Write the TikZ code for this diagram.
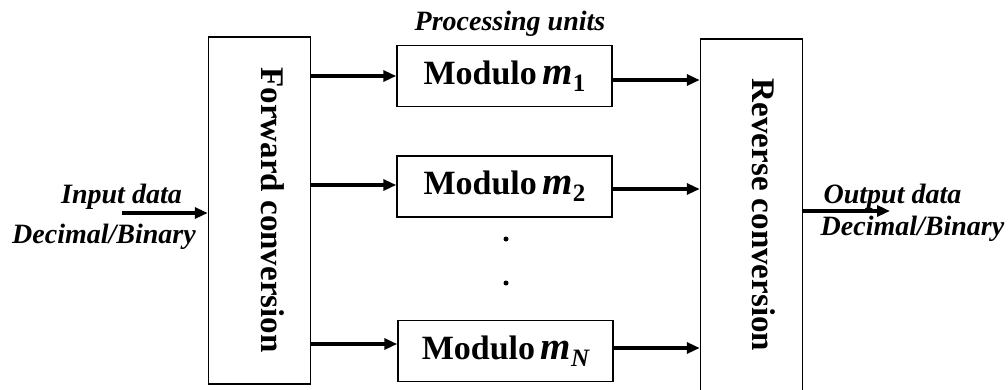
\documentclass[tikz,border=0pt]{standalone}
\usepackage{fontspec}
\setmainfont{Liberation Serif}
\usetikzlibrary{arrows.meta,positioning}

% bold italic m with its index, as in the modules
\newcommand{\unitm}[1]{{\fontsize{39}{39}\selectfont\itshape m}\raisebox{-7pt}{\fontsize{25}{25}\selectfont #1}}

\tikzset{
    convbox/.style={draw, line width=1.5pt, minimum width=102pt, inner sep=0pt},
    modbox/.style={draw, line width=1.5pt, minimum width=215pt, minimum height=61pt, inner sep=0pt,
        font=\fontsize{34}{38}\selectfont\bfseries},
    convtext/.style={rotate=-90, inner sep=0pt, font=\fontsize{33}{38}\selectfont\bfseries},
    datatext/.style={inner sep=0pt, anchor=base, font=\fontsize{28}{32}\selectfont\bfseries\itshape},
    flow/.style={line width=3.2pt, -{Triangle[length=13pt, width=11pt]}},
    dotmark/.style={circle, fill, inner sep=0pt, minimum size=5pt}
}

\begin{document}
\begin{tikzpicture}[x=1pt, y=-1pt]
        \useasboundingbox (0,0) rectangle (1008,389);

        % conversion blocks
        \node[convbox, minimum height=347pt] (fwd) at (259.5,210.5) {};
        \node[convbox, minimum height=361pt] (rev) at (751.5,219.5) {};
        \node[convtext] (fwdtext) at (273,210) {Forward conversion};
        \node[convtext] (revtext) at (764,215) {Reverse conversion};

        % processing units
        \node[datatext] (units) at (510,30) {Processing units};
        \node[modbox] (m1) at (504.5,76) {Modulo\,\unitm{1}};
        \node[modbox] (m2) at (504.5,186.5) {Modulo\,\unitm{2}};
        \node[modbox] (mN) at (505.5,351) {Modulo\,\unitm{\itshape N}};
        \node[dotmark] (dot1) at (506,239) {};
        \node[dotmark] (dot2) at (506,283) {};

        % into the modules
        \draw[flow] (fwd.east |- m1.west) -- (m1.west);
        \draw[flow] ([yshift=1.5pt]fwd.east |- m2.west) -- ([yshift=1.5pt]m2.west);
        \draw[flow] ([yshift=7pt]fwd.east |- mN.west) -- ([yshift=7pt]mN.west);

        % out of the modules
        \draw[flow] ([yshift=-4pt]m1.east) -- ([yshift=-4pt]rev.west |- m1.east);
        \draw[flow] ([yshift=-2.5pt]m2.east) -- ([yshift=-2.5pt]rev.west |- m2.east);
        \draw[flow] ([yshift=3pt]mN.east) -- ([yshift=3pt]rev.west |- mN.east);

        % input and output
        \coordinate (inp) at (122,213);
        \coordinate (outp) at (890,211);
        \draw[flow] (inp) -- (fwd.west |- inp);
        \draw[flow] (rev.east |- outp) -- (outp);

        \node[datatext] (intop) at (121.5,203) {Input data};
        \node[datatext] (inbot) at (104,243) {Decimal/Binary};
        \node[datatext] (outtop) at (892.5,203) {Output data};
        \node[datatext] (outbot) at (912.5,235) {Decimal/Binary};
\end{tikzpicture}
\end{document}
